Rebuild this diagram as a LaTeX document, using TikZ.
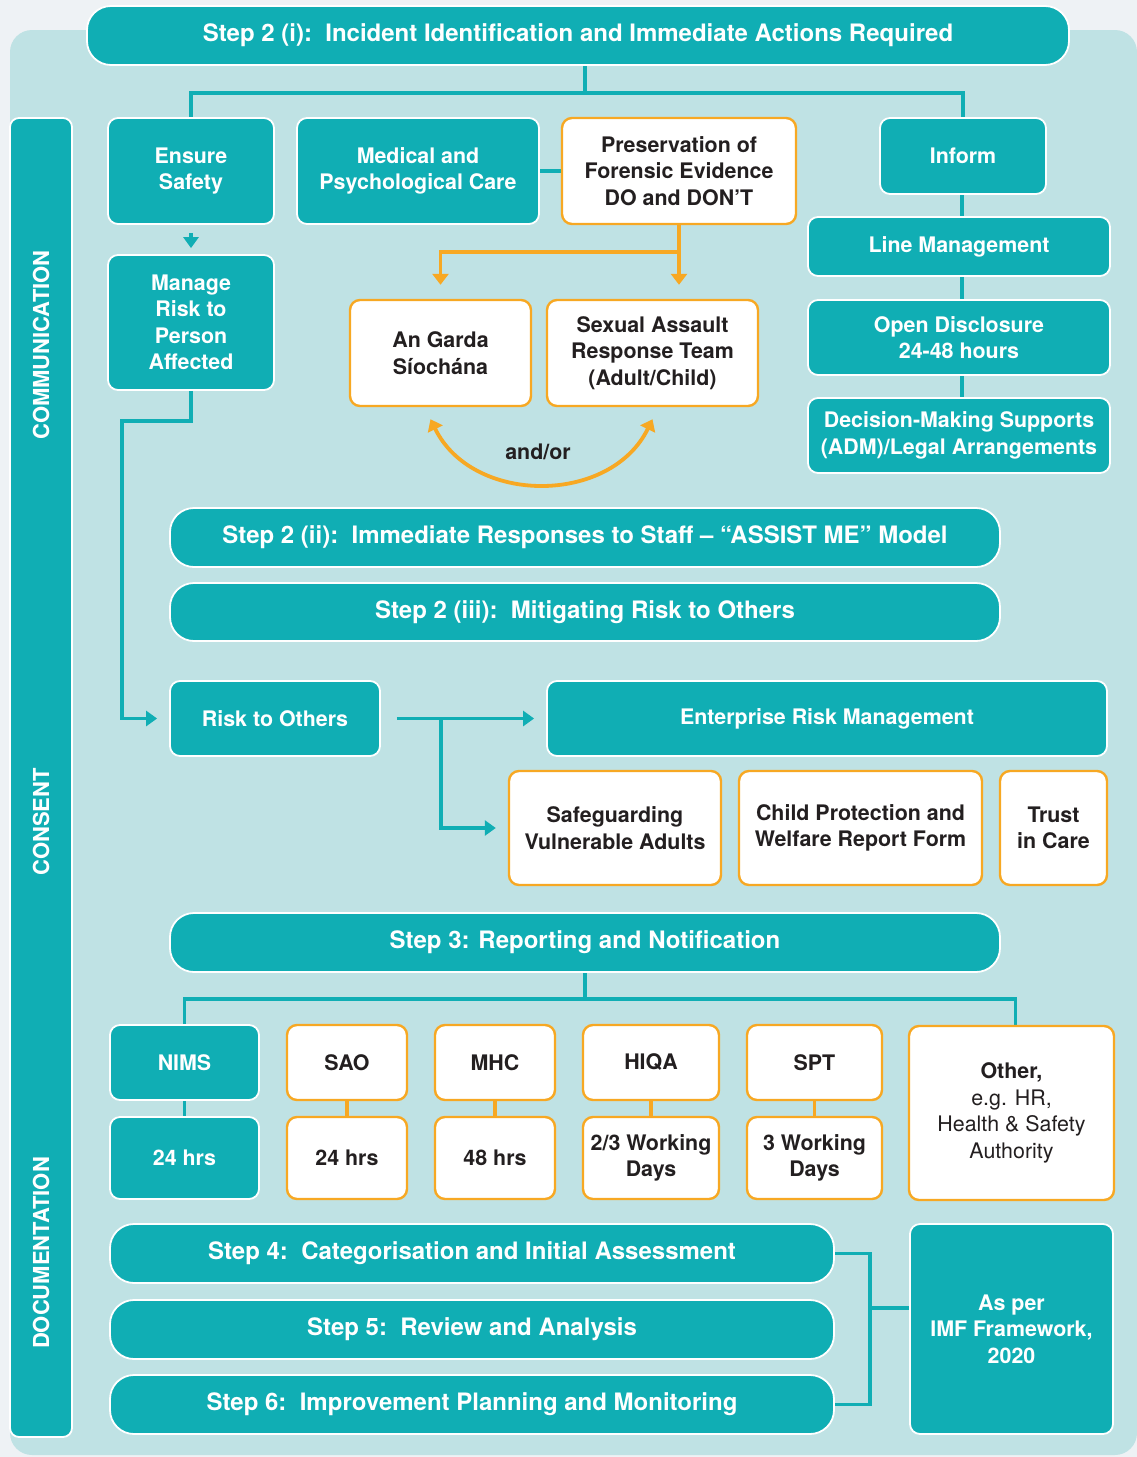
\documentclass[tikz,border=0pt]{standalone}
\usepackage{fontspec}
\setmainfont{TeX Gyre Heros}
\usetikzlibrary{arrows.meta,calc}

\definecolor{tealmain}{RGB}{16,174,180}
\definecolor{panelbg}{RGB}{191,226,228}
\definecolor{pagebg}{RGB}{238,242,245}
\definecolor{amber}{RGB}{247,168,35}
\definecolor{ink}{RGB}{35,31,32}

\pgfdeclarelayer{back}
\pgfdeclarelayer{wires}
\pgfsetlayers{back,wires,main}

\tikzset{
  boxfont/.style={font=\bfseries\fontsize{21.4}{26.5}\selectfont},
  tbox/.style={draw=white, line width=1.8pt, fill=tealmain, rounded corners=10pt,
    text=white, align=center, inner sep=2pt, boxfont},
  obox/.style={draw=amber, line width=2.4pt, fill=white, rounded corners=10pt,
    text=ink, align=center, inner sep=2pt, boxfont},
  banner/.style={tbox, rounded corners=24pt, font=\bfseries\fontsize{24}{28}\selectfont},
  sidelabel/.style={rotate=90, text=white, font=\bfseries\fontsize{22}{24}\selectfont},
  tline/.style={draw=tealmain, line width=3.4pt},
  oline/.style={draw=amber, line width=3.8pt},
  tarrow/.style={tline, -{Triangle[length=11pt,width=15pt]}},
  oarrow/.style={oline, -{Triangle[length=11pt,width=16pt]}},
}

\begin{document}
\begin{tikzpicture}[x=1pt,y=-1pt]
\useasboundingbox (0,0) rectangle (1137,1457);

% page and panel
\begin{pgfonlayer}{back}
  \fill[pagebg] (0,0) rectangle (1137,1457);
  \fill[panelbg, rounded corners=22pt] (10,30) rectangle (1137,1455);
\end{pgfonlayer}

% side bar
\node[tbox, rounded corners=9pt, minimum width=62pt, minimum height=1319pt] (side) at (41,777.5) {};
\node[sidelabel] (lblcomm) at (41,345) {COMMUNICATION};
\node[sidelabel] (lblcons) at (41,822) {CONSENT};
\node[sidelabel] (lbldoc) at (41,1253) {DOCUMENTATION};

% step 2 (i)
\node[banner, minimum width=982pt, minimum height=59pt] (title) at (578,35.5)
  {Step 2 (i):\ \ Incident Identification and Immediate Actions Required};

\node[tbox, minimum width=166pt, minimum height=106pt] (ensure) at (191,171) {Ensure\\Safety};
\node[tbox, minimum width=242pt, minimum height=106pt] (medical) at (418,171) {Medical and\\Psychological Care};
\node[obox, minimum width=234pt, minimum height=106pt] (preserv) at (679,171)
  {Preservation of\\Forensic Evidence\\DO and DON’T};
\node[tbox, minimum width=166pt, minimum height=76pt] (inform) at (963,156) {Inform};
\node[tbox, minimum width=302pt, minimum height=59pt] (linemgmt) at (959,246.5) {Line Management};
\node[tbox, minimum width=302pt, minimum height=75pt] (opendisc) at (959,337.5) {Open Disclosure\\24-48 hours};
\node[tbox, minimum width=302pt, minimum height=75pt] (dms) at (959,435.5)
  {Decision-Making Supports\\(ADM)/Legal Arrangements};
\node[tbox, minimum width=166pt, minimum height=135pt] (manage) at (191,322.5)
  {Manage\\Risk to\\Person\\Affected};
\node[obox, minimum width=181pt, minimum height=106pt] (garda) at (440.5,353) {An Garda\\Síochána};
\node[obox, minimum width=211pt, minimum height=106pt] (sart) at (652.5,353)
  {Sexual Assault\\Response Team\\(Adult/Child)};
\node[text=ink, boxfont] (andor) at (538,452) {and/or};

% steps 2 (ii) and 2 (iii)
\node[banner, minimum width=830pt, minimum height=59pt] (step2ii) at (585,537.5)
  {Step 2 (ii):\ \ Immediate Responses to Staff – “ASSIST ME” Model};
\node[banner, minimum width=830pt, minimum height=58pt] (step2iii) at (585,612)
  {Step 2 (iii):\ \ Mitigating Risk to Others};

\node[tbox, minimum width=210pt, minimum height=75pt] (risk) at (275,718.5) {Risk to Others};
\node[tbox, minimum width=560pt, minimum height=75pt] (erm) at (827,718.5) {Enterprise Risk Management};
\node[obox, minimum width=212pt, minimum height=114pt] (safeg) at (615,828) {Safeguarding\\Vulnerable Adults};
\node[obox, minimum width=243pt, minimum height=114pt] (child) at (860.5,828)
  {Child Protection and\\Welfare Report Form};
\node[obox, minimum width=107pt, minimum height=114pt] (trust) at (1053.5,828) {Trust\\in Care};

% step 3
\node[banner, minimum width=830pt, minimum height=59pt] (step3) at (585,942.5)
  {Step 3: Reporting and Notification};

\node[tbox, minimum width=149pt, minimum height=75pt] (nims) at (184.5,1062.5) {NIMS};
\node[tbox, minimum width=149pt, minimum height=82pt] (nimsT) at (184.5,1158) {24 hrs};
\node[obox, minimum width=120pt, minimum height=75pt] (sao) at (347,1062.5) {SAO};
\node[obox, minimum width=120pt, minimum height=82pt] (saoT) at (347,1158) {24 hrs};
\node[obox, minimum width=120pt, minimum height=75pt] (mhc) at (495,1062.5) {MHC};
\node[obox, minimum width=120pt, minimum height=82pt] (mhcT) at (495,1158) {48 hrs};
\node[obox, minimum width=136pt, minimum height=75pt] (hiqa) at (651,1062.5) {HIQA};
\node[obox, minimum width=136pt, minimum height=82pt] (hiqaT) at (651,1158) {2/3 Working\\Days};
\node[obox, minimum width=135pt, minimum height=75pt] (spt) at (814.5,1062.5) {SPT};
\node[obox, minimum width=135pt, minimum height=82pt] (sptT) at (814.5,1158) {3 Working\\Days};
\node[obox, minimum width=205pt, minimum height=174pt, font=\fontsize{21.4}{26.5}\selectfont] (other) at (1011.5,1113)
  {\textbf{Other,}\\e.g. HR,\\Health \& Safety\\Authority};

% steps 4 to 6
\node[banner, minimum width=724pt, minimum height=59pt] (step4) at (472,1253.5)
  {Step 4:\ \ Categorisation and Initial Assessment};
\node[banner, minimum width=724pt, minimum height=59pt] (step5) at (472,1329.5)
  {Step 5:\ \ Review and Analysis};
\node[banner, minimum width=724pt, minimum height=59pt] (step6) at (472,1404.5)
  {Step 6:\ \ Improvement Planning and Monitoring};
\node[tbox, minimum width=203pt, minimum height=210pt] (asper) at (1011.5,1329)
  {As per\\IMF Framework,\\2020};

% connectors
\begin{pgfonlayer}{wires}
  \coordinate (hub1) at ($(step3.north |- title.south)+(0,27)$);
  \draw[tline] (hub1 |- title.south) -- (hub1);
  \draw[tline] (ensure.north) |- (hub1) -| (inform.north);
  \draw[tline] (medical.east) -- (preserv.west);
  \draw[tline] ([xshift=-1pt]inform.south) -- ([xshift=-1pt]inform.south |- dms.north);
  \draw[tarrow, shorten <=8pt, shorten >=6pt] (ensure.south) -- (manage.north);

  \path (preserv.south) ++(0,27) coordinate (ojoin);
  \draw[oarrow, shorten >=14pt] (preserv.south) -- (preserv.south |- sart.north);
  \draw[oarrow, shorten >=14pt] (ojoin) -| (garda.north);
  \draw[oline, {Triangle[length=11pt,width=16pt]}-{Triangle[length=11pt,width=16pt]}]
    ($(garda.south)+(-10,12)$) .. controls ($(garda.south)+(32,98)$)
    and ($(sart.south)+(-42,98)$) .. ($(sart.south)+(0,12)$);

  \draw[tarrow, shorten >=12pt] (manage.south) -- ++(0,30) -| ($(risk.west)+(-47,0)$) -- (risk.west);
  \draw[tarrow, shorten <=16pt, shorten >=12pt] (risk.east) -- (erm.west);
  \draw[tarrow, shorten >=12pt] ($(risk.east)+(60,0)$) |- (safeg.west);

  \coordinate (hub3) at ($(step3.south)+(0,26)$);
  \draw[tline] (step3.south) -- (hub3);
  \draw[tline] (nims.north) |- (hub3) -| ([xshift=4pt]other.north);
  \draw[tline] (nims.south) -- (nimsT.north);
  \draw[oline] (sao.south) -- (saoT.north);
  \draw[oline] (mhc.south) -- (mhcT.north);
  \draw[oline] (hiqa.south) -- (hiqaT.north);
  \draw[oline] (spt.south) -- (sptT.north);

  \draw[tline] (step4.east) -- ++(35,0) |- (step6.east);
  \draw[tline] ([yshift=21pt]asper.west) -- ++(-41,0);
\end{pgfonlayer}
\end{tikzpicture}
\end{document}
